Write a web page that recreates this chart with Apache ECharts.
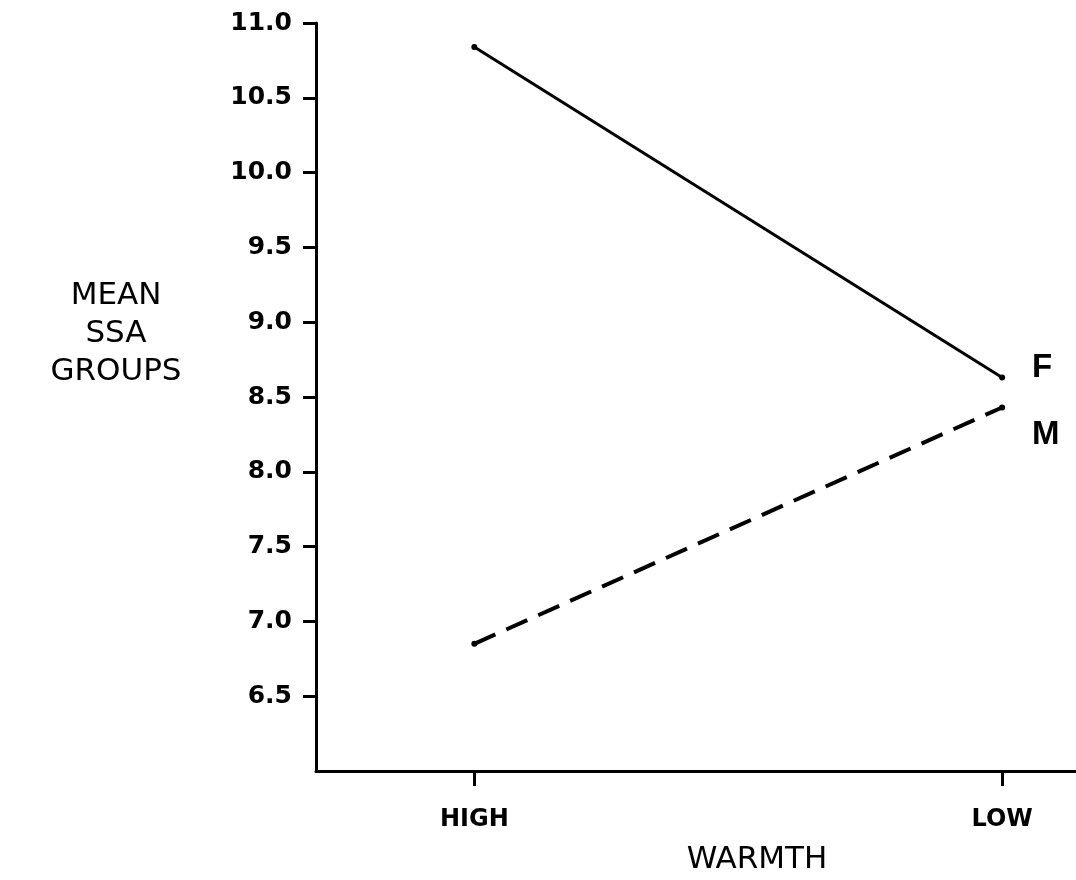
<!DOCTYPE html>
<html>
<head>
<meta charset="utf-8">
<script src="https://cdn.jsdelivr.net/npm/echarts@6/dist/echarts.min.js"></script>
<style>
  html, body { margin: 0; padding: 0; background: #fff; }
  #chart { width: 1076px; height: 880px; }
</style>
</head>
<body>
<div id="chart"></div>
<script>
  // warmth levels, placed on a value axis at 1 and 2
  var categories = ['HIGH', 'LOW']
  var catPos = [1, 2]
  var yTicks = [6.5, 7.0, 7.5, 8.0, 8.5, 9.0, 9.5, 10.0, 10.5, 11.0]
  var femaleVals = [10.84, 8.63]
  var maleVals = [6.85, 8.43]

  var chart = echarts.init(document.getElementById('chart'))

  function pairs(vals) {
    return vals.map(function (v, i) { return [catPos[i], v] })
  }

  chart.setOption({
    animation: false,
    backgroundColor: '#fff',
    title: [{
      text: 'MEAN\nSSA\nGROUPS',
      left: 111,
      top: 272,
      textAlign: 'center',
      textStyle: {
        fontFamily: 'DejaVu Sans',
        fontWeight: 'normal',
        fontSize: 31,
        lineHeight: 38,
        color: '#000'
      }
    }, {
      text: 'WARMTH',
      left: 752,
      top: 839,
      textAlign: 'center',
      textStyle: {
        fontFamily: 'DejaVu Sans',
        fontWeight: 'normal',
        fontSize: 31,
        color: '#000'
      }
    }],
    grid: {
      left: 316,
      right: 0,
      top: 23,
      bottom: 109
    },
    xAxis: {
      type: 'value',
      min: 0.7,
      max: 2.14,
      splitLine: { show: false },
      axisLine: { lineStyle: { color: '#000', width: 3 } },
      axisTick: {
        customValues: catPos,
        length: 15,
        lineStyle: { color: '#000', width: 3 }
      },
      axisLabel: {
        customValues: catPos,
        margin: 37,
        fontFamily: 'DejaVu Sans',
        fontWeight: 'bold',
        fontSize: 24,
        color: '#000',
        formatter: function (v) {
          var i = catPos.indexOf(v)
          return i >= 0 ? categories[i] : ''
        }
      }
    },
    yAxis: {
      type: 'value',
      min: 6,
      max: 11,
      interval: 0.5,
      splitLine: { show: false },
      axisLine: { show: true, lineStyle: { color: '#000', width: 3 } },
      axisTick: {
        customValues: yTicks,
        length: 13,
        lineStyle: { color: '#000', width: 3 }
      },
      axisLabel: {
        customValues: yTicks,
        margin: 24,
        fontFamily: 'DejaVu Sans',
        fontWeight: 'bold',
        fontSize: 25,
        color: '#000',
        formatter: function (v) { return v.toFixed(1) }
      }
    },
    series: [
      {
        name: 'F',
        type: 'line',
        data: pairs(femaleVals),
        symbol: 'circle',
        symbolSize: 6,
        itemStyle: { color: '#000' },
        lineStyle: { color: '#000', width: 3 },
        endLabel: {
          show: true,
          formatter: '{a}',
          offset: [22, -10],
          fontFamily: 'Liberation Sans',
          fontWeight: 'bold',
          fontSize: 33,
          color: '#000'
        }
      },
      {
        name: 'M',
        type: 'line',
        data: pairs(maleVals),
        symbol: 'circle',
        symbolSize: 6,
        itemStyle: { color: '#000' },
        lineStyle: { color: '#000', width: 4, type: [23, 12] },
        endLabel: {
          show: true,
          formatter: '{a}',
          offset: [22, 27],
          fontFamily: 'Liberation Sans',
          fontWeight: 'bold',
          fontSize: 33,
          color: '#000'
        }
      }
    ]
  })
</script>
</body>
</html>
